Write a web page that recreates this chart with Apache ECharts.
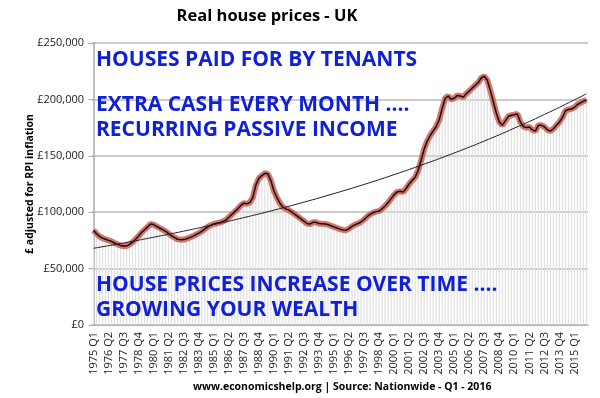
<!DOCTYPE html>
<html><head><meta charset="utf-8">
<script src="https://cdn.jsdelivr.net/npm/echarts@6/dist/echarts.min.js"></script>
<style>html,body{margin:0;padding:0;background:#fff}#c{width:600px;height:398px}</style>
</head><body><div id="c"></div>
<script>
// quarterly categories 1975 Q1 .. 2016 Q1
const startYear = 1975;
const quarterCount = 165;
const categories = [];
for (let i = 0; i < quarterCount; i++) {
  categories.push((startYear + Math.floor(i / 4)) + ' Q' + (i % 4 + 1));
}
// real house prices (£)
const prices = [
 84000,81000,78500,77000,76000,75000,74000,72700,71500,70500,
 70000,70000,71500,73500,76000,79000,82000,84500,87000,89500,
 89000,87500,86000,84500,83000,81000,79000,77500,76000,75500,
 75700,76500,77500,78600,80000,81500,83000,85000,87000,88500,
 89500,90200,90800,91800,93000,95500,98000,100500,103000,106000,
 108000,107500,108500,113000,124000,130000,132500,134500,134000,128000,
 119000,113000,108000,104500,103000,101800,100000,98000,96000,94000,
 92000,90000,89500,91000,91000,90000,89800,89500,89000,88000,
 87000,86000,85000,84300,84000,85500,87500,89000,90000,91300,
 93500,96000,98000,99500,100500,101000,103000,105500,108500,112000,
 115500,118000,118500,117800,121000,125000,128000,131000,137000,146000,
 156000,163000,168000,172000,176000,182000,192000,201000,203000,200000,
 201000,203500,203000,202000,205000,207500,210000,212500,215000,219000,
 220500,217000,208000,198000,188000,180000,177000,181000,185000,186000,
 186500,187000,180000,176000,175000,175500,173000,172000,177000,177000,
 175800,173000,172000,174000,177000,180000,184000,190000,191000,191500,
 193000,195500,197000,198500,199500
];
// trend line read at selected quarter indices
const trendIdx = [0,10,20,30,40,50,60,70,80,90,100,110,120,130,140,150,160,164];
const trendVal = [68000,72700,77800,83200,89000,95200,101800,108900,116500,124600,133300,142600,152500,163100,174500,186600,199600,205000];
const yTicks = [0,50000,100000,150000,200000,250000];
const notes = [
  ['HOUSES PAID FOR BY TENANTS', 62],
  ['EXTRA CASH EVERY MONTH ....', 107],
  ['RECURRING PASSIVE INCOME', 132],
  ['HOUSE PRICES INCREASE OVER TIME ....', 287],
  ['GROWING YOUR WEALTH', 312]
];

const chart = echarts.init(document.getElementById('c'), null, {renderer:'canvas'});
const trendData = trendIdx.map((x, k) => [x, trendVal[k]]);
const font = '"Open Sans", "Liberation Sans", sans-serif';
chart.setOption({
  animation: false,
  backgroundColor: '#fff',
  title: {
    text: 'Real house prices - UK', left: 262, top: 3, textAlign: 'center',
    textStyle: {fontSize: 16.5, fontWeight: 'bold', color: '#000', fontFamily: font}
  },
  grid: {left: 92, right: 12, top: 43, bottom: 73, containLabel: false},
  xAxis: [{
    type: 'category', data: categories, boundaryGap: true,
    axisLine: {lineStyle: {color: '#aaa', width: 1.5}},
    axisTick: {show: false},
    axisLabel: {interval: 4, rotate: 90, fontSize: 11, color: '#222', fontFamily: font, margin: 7}
  }, {
    type: 'value', min: -0.5, max: quarterCount - 0.5, show: false
  }],
  yAxis: {
    type: 'value', min: 0, max: 250000, interval: 50000,
    name: '£ adjusted for RPI inflation', nameLocation: 'middle', nameGap: 56,
    nameMoveOverlap: false,
    nameTextStyle: {fontSize: 10.5, fontWeight: 'bold', color: '#000', fontFamily: font},
    axisLine: {show: true, lineStyle: {color: '#aaa', width: 1.5}},
    axisTick: {show: true, length: 5, lineStyle: {color: '#aaa'}},
    splitLine: {lineStyle: {color: '#bcbcbc', width: 1.5}},
    axisLabel: {fontSize: 11, color: '#222', fontFamily: font, margin: 8,
      formatter: v => '£' + v.toLocaleString('en-GB')}
  },
  series: [
    {type: 'bar', data: prices, barWidth: 1.2, itemStyle: {color: '#e0e0e0'}, silent: true, z: 1},
    {type: 'line', data: prices, symbol: 'none', lineStyle: {color: '#d0665e', width: 6, opacity: 0.9}, z: 2},
    {type: 'line', data: prices, symbol: 'none', lineStyle: {color: '#111', width: 1.5}, z: 3},
    {type: 'line', xAxisIndex: 1, data: trendData, symbol: 'none', smooth: true,
      lineStyle: {color: '#222', width: 1}, z: 4}
  ],
  graphic: notes.map(n => ({
    type: 'text', left: 96, top: n[1] - 12, z: 10,
    style: {text: n[0], font: 'bold 21px ' + font, fill: '#1020d8'}
  })).concat([{
    type: 'text', left: 193, top: 382,
    style: {text: 'www.economicshelp.org | Source: Nationwide - Q1 - 2016',
      font: 'bold 10.5px ' + font, fill: '#000'}
  }])
});
</script></body></html>
